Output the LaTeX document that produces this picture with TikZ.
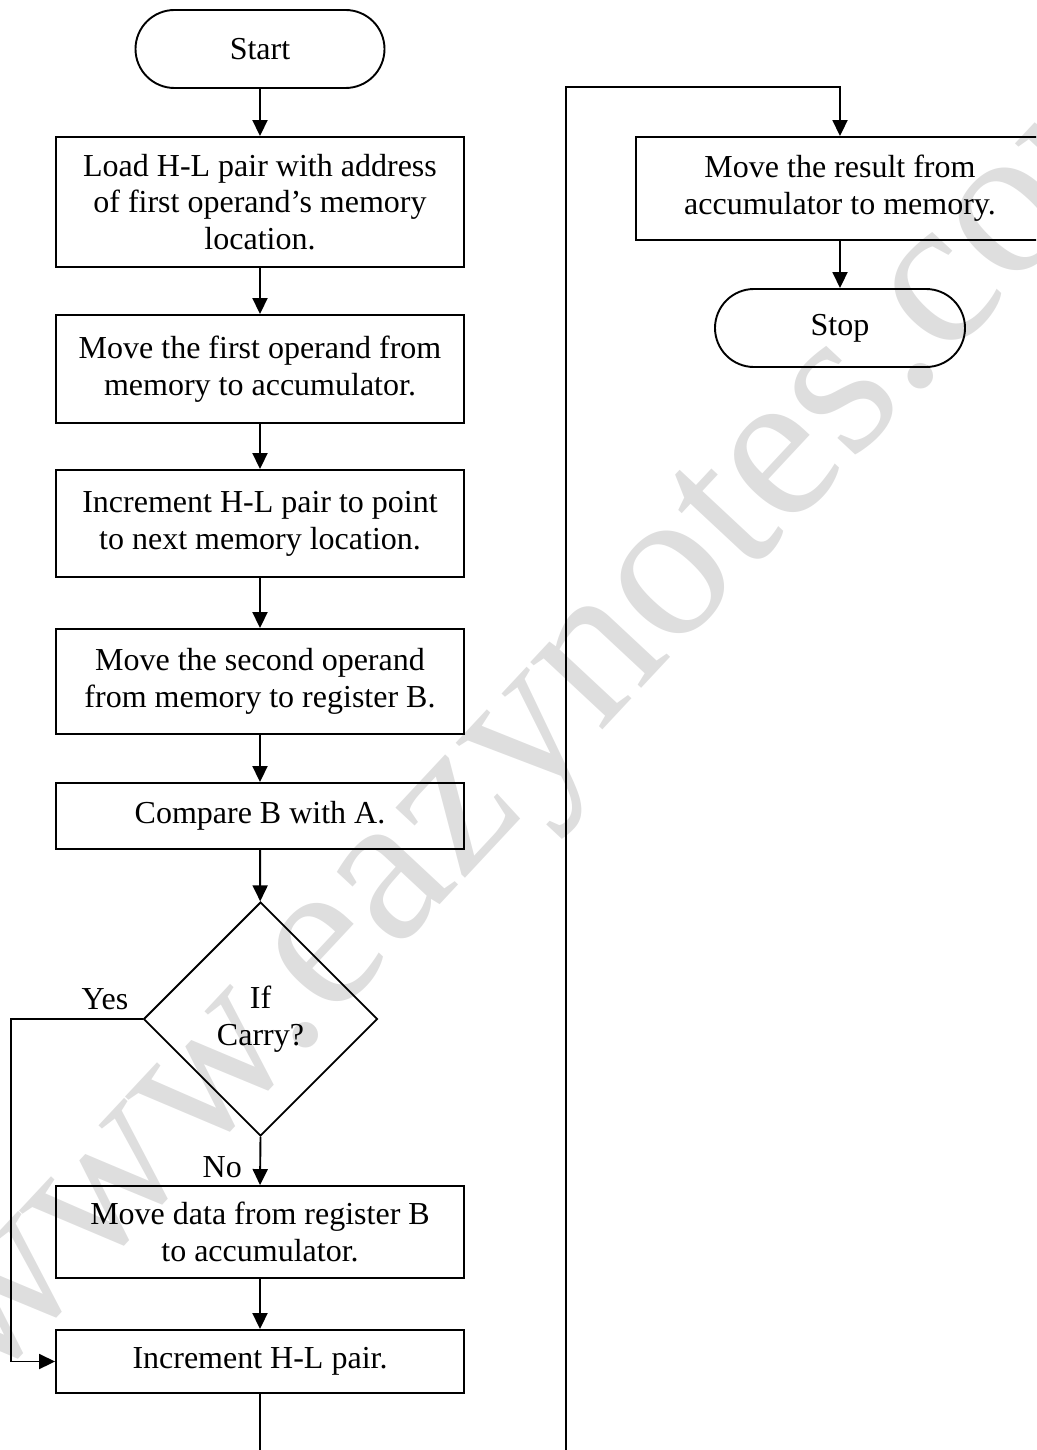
\documentclass[tikz,border=0pt]{standalone}
\usepackage{fontspec}
\setmainfont{Liberation Serif}
\usetikzlibrary{shapes.geometric,shapes.misc,arrows.meta}
\begin{document}
\begin{tikzpicture}[x=1pt,y=-1pt,
  every node/.style={font=\fontsize{32}{36.8}\selectfont},
  box/.style={draw, line width=1.9pt, rectangle, minimum width=408pt, inner sep=0pt, align=center},
  term/.style={draw, line width=1.9pt, rounded rectangle, minimum width=249pt, minimum height=78pt, inner sep=0pt},
  dec/.style={draw, line width=1.9pt, diamond, minimum width=234pt, minimum height=234pt, inner sep=0pt, align=center},
  conn/.style={line width=1.9pt, -{Triangle[length=16pt,width=15pt]}},
  plain/.style={line width=1.9pt},
  lbl/.style={inner sep=0pt},
  wm/.style={text=black!13, font=\fontsize{215}{215}\selectfont, rotate=47, anchor=base, inner sep=0pt}
]
\useasboundingbox (0,0) rectangle (1036,1450);
\clip (0,0) rectangle (1036,1450);

\node[wm] (wm) at (592,742) {www.eazynotes.com};

\node[term] (start) at (260,49) {Start};
\node[box, minimum height=130pt] (b1) at (260,202) {Load H-L pair with address\\of first operand’s memory\\location.};
\node[box, minimum height=108pt] (b2) at (260,369) {Move the first operand from\\memory to accumulator.};
\node[box, minimum height=107pt] (b3) at (260,523.5) {Increment H-L pair to point\\to next memory location.};
\node[box, minimum height=105pt] (b4) at (260,681.5) {Move the second operand\\from memory to register B.};
\node[box, minimum height=66pt] (b5) at (260,816) {Compare B with A.};
\node[dec] (dec) at (260.5,1019) {If\\Carry?};
\node[box, minimum height=92pt] (b6) at (260,1232) {Move data from register B\\to accumulator.};
\node[box, minimum height=63pt] (b7) at (260,1361.5) {Increment H-L pair.};
\node[box, minimum height=103pt] (r1) at (840,188.5) {Move the result from\\accumulator to memory.};
\node[term, minimum width=250pt] (stop) at (840,328) {Stop};

\node[lbl, anchor=base] (yes) at (105,1009) {Yes};
\node[lbl, anchor=base east] (no) at (242,1177) {No};

\coordinate (endL) at (260,1460);
\coordinate (endR) at (566,1460);
\coordinate (topR) at (566,87);

\draw[conn] (start) -- (b1);
\draw[conn] (b1) -- (b2);
\draw[conn] (b2) -- (b3);
\draw[conn] (b3) -- (b4);
\draw[conn] (b4) -- (b5);
\draw[conn] (b5) -- (dec);
\draw[conn] (dec.south) -- (b6.north);
\draw[conn] (dec.west) -- ++(-132,0) |- (b7.west);
\draw[conn] (b6) -- (b7);
\draw[plain] (b7.south) -- (endL);
\draw[conn] (endR) -- (topR) -| (r1.north);
\draw[conn] (r1) -- (stop);
\end{tikzpicture}
\end{document}
